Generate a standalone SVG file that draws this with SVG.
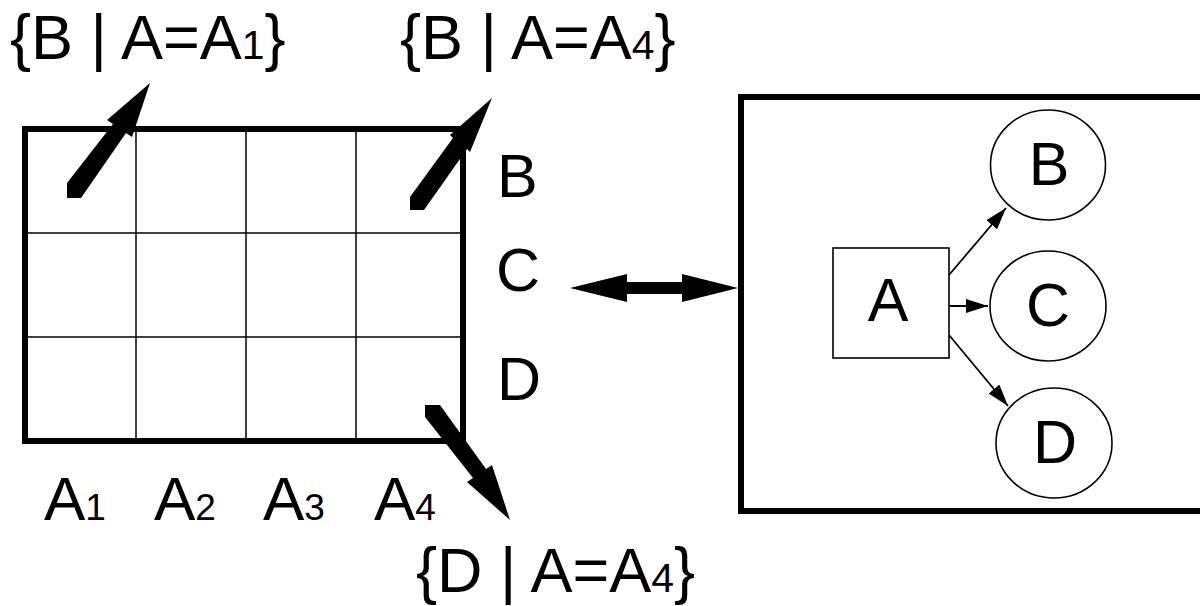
<svg xmlns="http://www.w3.org/2000/svg" width="1200" height="606" viewBox="0 0 1200 606">
<style>
text{font-family:"Liberation Sans",Arial,sans-serif;fill:#000}
.big{font-size:62px}
.set{font-size:63px}
.lbl{font-size:61px}
.sub{font-size:41px}
.subb{font-size:37px}
.thick{fill:none;stroke:#000;stroke-width:6}
.thin{fill:none;stroke:#000;stroke-width:1.5}
.node{fill:#fff;stroke:#000;stroke-width:1.6}
.edge{fill:none;stroke:#000;stroke-width:1.8}
.solid{fill:#000;stroke:none}
</style>
<defs>
<marker id="ahs" viewBox="0 0 22 14" refX="22" refY="7" markerWidth="22" markerHeight="14" markerUnits="userSpaceOnUse" orient="auto">
<path d="M0,0 L22,7 L0,14 z" fill="#000"/>
</marker>
</defs>

<g id="grid">
<rect x="25" y="129" width="438" height="312" class="thick"/>
<line x1="136" y1="129" x2="136" y2="441" class="thin"/>
<line x1="246" y1="129" x2="246" y2="441" class="thin"/>
<line x1="356" y1="129" x2="356" y2="441" class="thin"/>
<line x1="25" y1="233" x2="463" y2="233" class="thin"/>
<line x1="25" y1="337" x2="463" y2="337" class="thin"/>
</g>

<g id="grid-labels">
<text class="lbl" x="497" y="197">B</text>
<text class="lbl" x="496" y="291">C</text>
<text class="lbl" x="497" y="400">D</text>
<text class="big" x="44" y="520">A<tspan class="subb">1</tspan></text>
<text class="big" x="154" y="520">A<tspan class="subb">2</tspan></text>
<text class="big" x="263" y="520">A<tspan class="subb">3</tspan></text>
<text class="big" x="374" y="520">A<tspan class="subb">4</tspan></text>
</g>

<g id="set-labels">
<text class="set" x="10" y="59">{B | A=A<tspan class="sub">1</tspan>}</text>
<text class="set" x="400" y="59">{B | A=A<tspan class="sub">4</tspan>}</text>
<text class="set" x="416" y="592">{D | A=A<tspan class="sub">4</tspan>}</text>
</g>

<g id="thick-arrows">
<polygon class="solid" points="67,183 67,198 81,198 126,133 132,137 150,83 107,120 113,124"/>
<polygon class="solid" points="410,197 410,210 424,210 467,149 470,152 492,98 450,135 453,138"/>
<polygon class="solid" points="425,405 440,405 486,469 492,465 510,520 467,482 473,478 425,417"/>
<polygon class="solid" points="570,288 627,274 627,282 682,282 682,274 738,288 682,302 682,294 627,294 627,302"/>
</g>

<g id="graph-frame">
<rect x="741" y="97" width="463" height="414" class="thick" stroke-width="7"/>
</g>

<g id="node-A">
<rect x="833" y="248" width="116" height="110" class="node"/>
<text class="lbl" x="888" y="321" text-anchor="middle">A</text>
</g>
<g id="node-B">
<ellipse cx="1048" cy="165" rx="57.5" ry="55" class="node"/>
<text class="lbl" x="1049" y="185" text-anchor="middle">B</text>
</g>
<g id="node-C">
<ellipse cx="1048" cy="306" rx="58" ry="55" class="node"/>
<text class="lbl" x="1048" y="326" text-anchor="middle">C</text>
</g>
<g id="node-D">
<ellipse cx="1054" cy="443" rx="58" ry="55" class="node"/>
<text class="lbl" x="1055" y="463" text-anchor="middle">D</text>
</g>

<g id="connectors">
<line x1="949" y1="275" x2="1006" y2="208" class="edge" marker-end="url(#ahs)"/>
<line x1="949" y1="306" x2="988" y2="306" class="edge" marker-end="url(#ahs)"/>
<line x1="949" y1="335" x2="1008" y2="406" class="edge" marker-end="url(#ahs)"/>
</g>
</svg>
